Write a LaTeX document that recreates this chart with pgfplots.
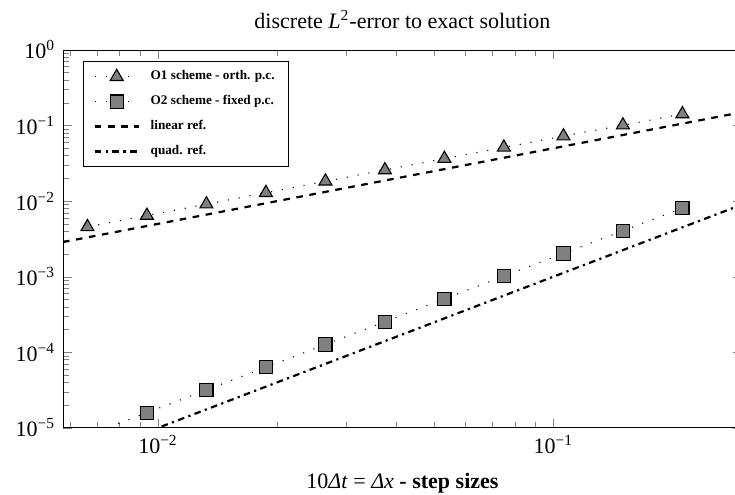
\documentclass[border=0pt]{standalone}
\usepackage{fontspec}
\setmainfont{Liberation Serif}
\usepackage{pgfplots}
\pgfplotsset{compat=1.18}

\begin{document}
\begin{tikzpicture}
\begin{loglogaxis}[
  scale only axis,
  width=308.6pt, height=171.8pt,
  xmin=0.00575, xmax=0.3,
  ymin=1e-5, ymax=1,
  title={discrete \textit{L}\textsuperscript{2}-error to exact solution},
  title style={font=\fontsize{10}{12}\selectfont},
  xlabel={10\textit{Δt} = \textit{Δx} \textbf{- step sizes}},
  xlabel style={font=\fontsize{10}{12}\selectfont, yshift=-2pt},
  tick label style={font=\fontsize{10}{12}\selectfont},
  yticklabel={\pgfmathtruncatemacro{\ex}{round(\tick/2.302585093)}10\textsuperscript{\ifnum\ex<0 −\number-\ex\else\ex\fi}},
  xticklabel={\pgfmathtruncatemacro{\ex}{round(\tick/2.302585093)}10\textsuperscript{\ifnum\ex<0 −\number-\ex\else\ex\fi}},
  legend pos=north west,
  legend cell align=left,
  legend style={font=\fontsize{6}{7}\selectfont\bfseries, draw=black, row sep=1.6pt, inner xsep=4.5pt},
  legend image code/.code={\draw[mark repeat=2,mark phase=2,#1] plot coordinates {(0cm,0cm) (0.35cm,0cm) (0.7cm,0cm)};},
]
\addplot[black, line width=0.5pt, dash pattern=on 0.5pt off 4.5pt, mark=triangle*, mark size=3.4pt,
  mark options={solid, fill=gray, draw=black, line width=0.5pt}] coordinates {
  (0.00663, 0.00456) (0.009375, 0.00645) (0.01326, 0.00912) (0.01875, 0.0129)
  (0.02652, 0.0183) (0.0375, 0.0258) (0.05303, 0.0365) (0.075, 0.0514)
  (0.1061, 0.0725) (0.15, 0.101) (0.2121, 0.142)
};
\addlegendentry{\hspace{3pt}O1 scheme - orth. p.c.}
\addplot[black, line width=0.5pt, dash pattern=on 0.5pt off 4.5pt, mark=square*, mark size=3pt,
  mark options={solid, fill=gray, draw=black, line width=0.5pt}] coordinates {
  (0.00663, 7.9e-6) (0.009375, 1.59e-5) (0.01326, 3.18e-5) (0.01875, 6.35e-5)
  (0.02652, 1.27e-4) (0.0375, 2.54e-4) (0.05303, 5.08e-4) (0.075, 1.02e-3)
  (0.1061, 2.03e-3) (0.15, 4.06e-3) (0.2121, 8.05e-3)
};
\addlegendentry{\hspace{3pt}O2 scheme - fixed p.c.}
\addplot[black, line width=1pt, dashed] coordinates {(0.00575, 0.002875) (0.3, 0.15)};
\addlegendentry{\hspace{3pt}linear ref.}
\addplot[black, line width=1pt, dashdotted] coordinates {(0.00575, 3.306e-6) (0.3, 9e-3)};
\addlegendentry{\hspace{3pt}quad. ref.}
\end{loglogaxis}
\pgfresetboundingbox
\path[use as bounding box] ([shift={(-28.64pt,-30.45pt)}]current axis.south west) rectangle ([shift={(305.45pt,194.5pt)}]current axis.south west);
\end{tikzpicture}
\end{document}
